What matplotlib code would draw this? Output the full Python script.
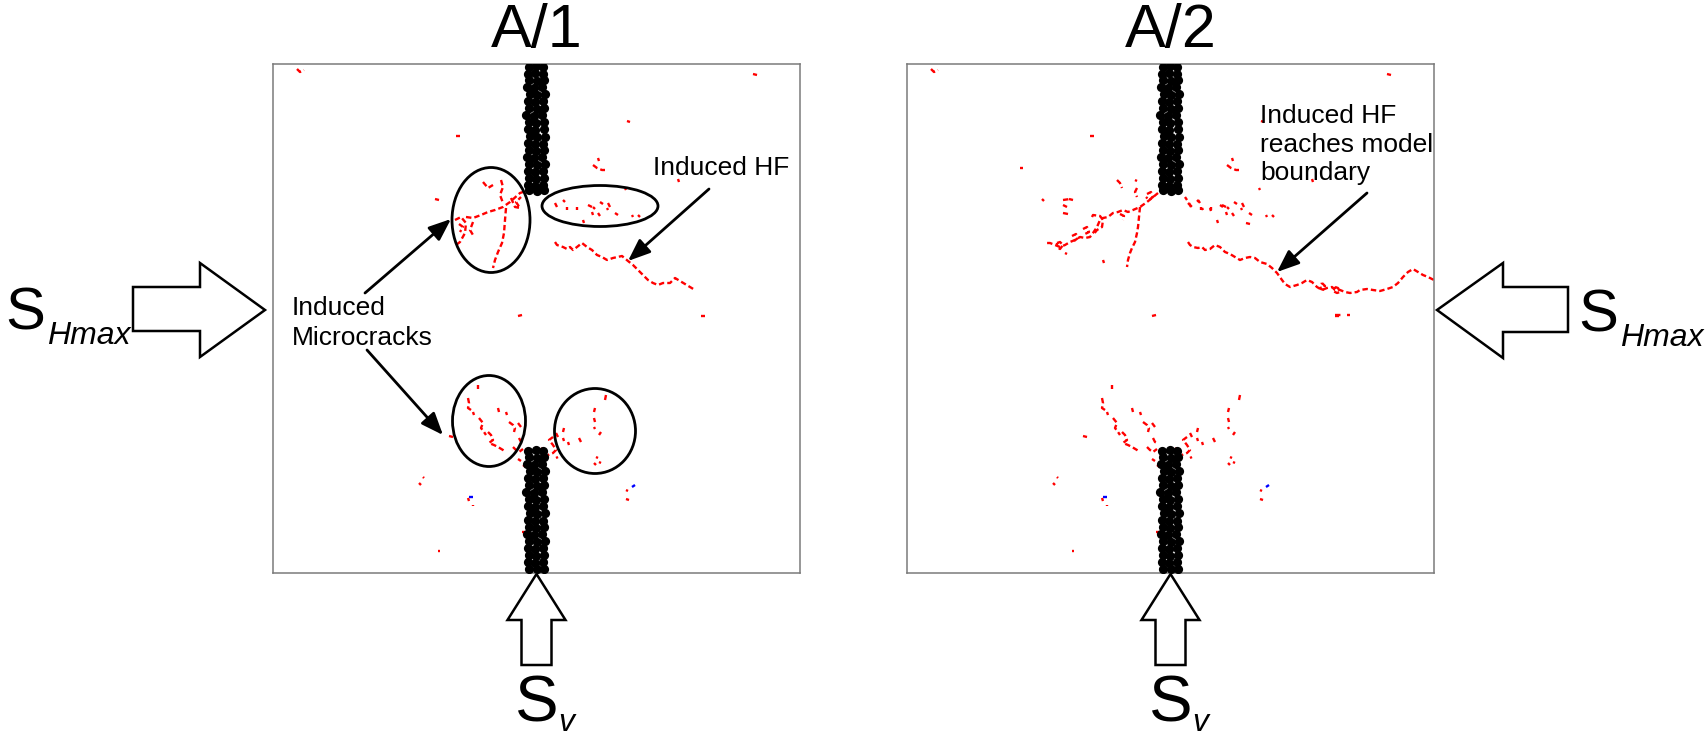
import matplotlib.pyplot as plt
from matplotlib.patches import Ellipse, Polygon

plt.rcParams['font.family'] = ['Liberation Sans', 'DejaVu Sans']

# figure size in pixels, model box size and placement
W, H = 1708, 736
PW, PH = 527, 509
panel_x0 = [273, 907]
panel_y0 = 64
titles = ['A/1', 'A/2']

# wellbore particles (panel coords, y down from the top of the model)
well_top = [
    (256, 3), (263, 2), (270, 3), (255, 10), (262, 9), (270, 10),
    (256, 16), (264, 17), (271, 16), (254, 23), (261, 24), (269, 23),
    (257, 30), (264, 31), (272, 30), (255, 37), (262, 38), (270, 37),
    (256, 44), (264, 45), (271, 44), (253, 51), (261, 52), (269, 51),
    (256, 58), (263, 59), (271, 58), (255, 65), (262, 66), (271, 65),
    (257, 72), (264, 73), (272, 73), (255, 79), (262, 80), (270, 80),
    (256, 86), (263, 87), (271, 86), (254, 93), (261, 94), (269, 93),
    (256, 100), (264, 101), (272, 100), (255, 107), (262, 108), (270, 107),
    (256, 114), (263, 115), (271, 114), (255, 121), (262, 122), (270, 121),
    (256, 126), (264, 127), (271, 126),
]
well_bot = [
    (255, 387), (263, 386), (270, 387), (256, 393), (264, 394), (271, 393),
    (254, 400), (261, 401), (269, 400), (257, 407), (264, 408), (272, 407),
    (255, 414), (262, 415), (270, 414), (256, 421), (264, 422), (271, 421),
    (253, 428), (261, 429), (269, 428), (256, 435), (263, 436), (271, 435),
    (255, 442), (262, 443), (270, 442), (257, 449), (264, 450), (272, 449),
    (255, 456), (262, 457), (270, 457), (256, 463), (263, 464), (271, 463),
    (254, 470), (261, 471), (269, 470), (256, 477), (264, 478), (272, 477),
    (255, 484), (262, 485), (270, 484), (256, 491), (263, 492), (271, 491),
    (255, 498), (262, 499), (270, 498), (256, 505), (264, 505), (271, 505),
]

# microcracks present in both stages
cracks_shared = [
    [(24, 5), (27, 8), (31, 6)],
    [(183, 72), (187, 72)], [(162, 135), (166, 136)], [(245, 252), (249, 251)],
    [(354, 57), (357, 58)], [(480, 10), (484, 11)], [(428, 252), (432, 252)],
    [(405, 115), (406, 118)],
    # right of the upper well
    [(282, 139), (284, 143)], [(290, 136), (292, 138)], [(294, 143), (294, 146)],
    [(304, 143), (304, 146)], [(315, 141), (319, 143)], [(320, 143), (322, 145)],
    [(327, 138), (330, 140)], [(335, 139), (337, 143)], [(319, 148), (320, 151)],
    [(325, 149), (327, 152)], [(334, 144), (335, 146)], [(342, 149), (345, 151)],
    [(359, 151), (360, 153)], [(365, 151), (367, 153)], [(310, 156), (311, 159)],
    [(352, 124), (353, 126)],
    [(320, 101), (324, 104), (329, 106), (332, 106)], [(325, 94), (326, 97)],
    # around the lower well
    [(205, 321), (205, 325)],
    [(195, 334), (196, 339), (195, 344), (198, 346)],
    [(200, 348), (201, 351)],
    [(206, 354), (210, 359), (208, 364), (211, 368), (213, 371)],
    [(215, 368), (218, 371), (220, 376), (216, 379), (221, 381), (225, 383),
     (230, 386), (233, 388)],
    [(225, 344), (226, 348)], [(233, 348), (234, 351)],
    [(236, 358), (240, 361), (242, 364), (241, 368)],
    [(245, 359), (248, 363)], [(246, 374), (248, 378), (250, 379)],
    [(240, 383), (243, 386), (246, 388), (250, 385)],
    [(245, 395), (248, 397)], [(250, 401), (253, 403)],
    [(176, 372), (180, 373)],
    [(333, 331), (332, 336)], [(322, 344), (321, 348)], [(321, 354), (322, 358)],
    [(321, 363), (322, 365)], [(328, 368), (326, 371)], [(306, 374), (308, 378)],
    [(291, 364), (290, 368)], [(283, 369), (285, 373)],
    [(280, 373), (276, 376), (280, 381), (283, 386), (280, 389), (275, 391)],
    [(268, 384), (273, 388)], [(283, 394), (285, 393)], [(295, 378), (296, 381)],
    [(290, 374), (291, 377)], [(323, 393), (325, 394)], [(321, 399), (323, 401)],
    [(326, 398), (328, 399)],
    [(150, 413), (151, 414)], [(146, 419), (148, 421)], [(195, 434), (196, 437)],
    [(200, 441), (200, 442)], [(353, 426), (355, 427)], [(353, 435), (356, 436)],
    [(165, 487), (167, 487)], [(249, 468), (252, 468)],
]
cracks_blue = [[(196, 433), (200, 433)], [(359, 423), (362, 421)]]

# upper-left cracks and hydraulic fracture, stage 1
cracks_a1 = [
    [(182, 156), (188, 153), (193, 159), (192, 169), (187, 178), (183, 181)],
    [(193, 153), (200, 154), (208, 151), (215, 148), (222, 146), (230, 143),
     (237, 138), (247, 129), (253, 127)],
    [(233, 144), (232, 156), (231, 169), (229, 179), (225, 188), (222, 196), (220, 204)],
    [(210, 118), (215, 124), (220, 121)],
    [(228, 116), (230, 123), (227, 131), (230, 139)],
    [(238, 134), (242, 143), (247, 144), (243, 138), (248, 133)],
    [(200, 158), (197, 166), (200, 171)],
    [(186, 160), (190, 163), (187, 168)],
    [(282, 178), (284, 181), (290, 183), (294, 185), (297, 183), (300, 186),
     (304, 183), (309, 179), (314, 183), (319, 186), (324, 191), (329, 193),
     (334, 196), (340, 194), (349, 192), (355, 197), (360, 201), (365, 206),
     (370, 211), (375, 216), (380, 219), (385, 221), (390, 219), (397, 219),
     (402, 214), (407, 217), (412, 220), (417, 223), (422, 226)],
]

# upper-left cracks and hydraulic fracture, stage 2
cracks_a2 = [
    [(251, 129), (245, 134), (240, 138), (233, 143), (226, 146), (221, 148),
     (216, 146), (211, 148), (206, 149), (201, 153), (196, 154), (193, 156),
     (190, 163), (186, 169), (183, 173), (178, 174), (173, 173), (168, 176),
     (163, 178), (158, 181), (153, 183), (148, 181), (143, 179), (138, 179)],
    [(233, 143), (232, 153), (231, 163), (230, 169), (228, 178), (225, 184),
     (223, 189), (221, 196), (220, 203)],
    [(156, 136), (163, 135)], [(156, 141), (160, 143)], [(156, 149), (161, 150)],
    [(210, 116), (213, 119), (215, 124)], [(228, 116), (230, 117)],
    [(230, 124), (228, 128), (230, 133)],
    [(150, 179), (153, 178), (156, 181), (153, 185), (150, 183), (150, 179)],
    [(165, 172), (169, 170), (171, 174), (167, 177)],
    [(176, 165), (180, 163), (182, 168), (178, 170)],
    [(240, 130), (244, 128), (246, 133), (242, 136), (239, 133)],
    [(213, 150), (217, 152), (216, 156)],
    [(158, 189), (160, 190)], [(196, 196), (197, 199)],
    [(185, 153), (186, 151), (193, 152), (196, 156), (195, 163), (190, 166), (186, 171)],
    [(113, 104), (116, 104)], [(135, 135), (137, 137)],
    [(278, 133), (280, 136)], [(281, 139), (285, 143)], [(291, 136), (293, 139)],
    [(295, 144), (296, 146)], [(303, 144), (304, 147)], [(313, 141), (316, 143)],
    [(339, 159), (343, 160)],
    [(281, 178), (283, 181), (286, 183), (291, 184), (295, 183), (298, 186),
     (303, 185), (308, 181), (313, 183), (318, 188), (323, 190), (328, 193),
     (333, 196), (338, 194), (343, 193), (348, 194), (353, 198), (360, 200),
     (365, 204), (370, 209), (375, 216), (378, 220), (383, 223), (390, 221),
     (395, 219), (400, 216), (405, 218), (410, 223), (415, 226), (420, 224),
     (425, 223), (428, 226), (433, 226), (438, 228), (443, 229), (450, 228),
     (453, 226), (460, 225), (466, 226), (473, 227), (480, 225), (486, 223),
     (491, 219), (496, 213), (501, 208), (506, 205), (511, 208), (516, 211),
     (521, 213), (527, 216)],
    [(415, 219), (418, 222), (417, 226), (414, 225), (413, 222), (415, 219)],
    [(428, 223), (431, 224), (433, 228), (430, 229), (426, 227), (428, 223)],
    [(428, 251), (435, 251)], [(440, 251), (443, 251)],
]

# annotation ellipses (centre x, centre y, width, height), stage 1 only
ellipses_a1 = [(218, 156, 78, 105), (327, 142, 116, 41),
               (216, 357, 73, 91), (322, 367, 81, 85)]

# labels inside the models: (x, baseline y, text)
labels_a1 = [(19, 251, 'Induced'), (19, 281, 'Microcracks'), (380, 111, 'Induced HF')]
labels_a2 = [(353, 59, 'Induced HF'), (353, 88, 'reaches model'), (353, 116, 'boundary')]
pointers_a1 = [((92, 229), (178, 155)), ((94, 286), (170, 371)), ((436, 125), (355, 197))]
pointers_a2 = [((460, 129), (370, 208))]


def model_axes(x0):
    ax = fig.add_axes([x0 / W, (H - panel_y0 - PH) / H, PW / W, PH / H])
    ax.set_xlim(0, PW)
    ax.set_ylim(PH, 0)
    ax.set_xticks([])
    ax.set_yticks([])
    ax.patch.set_visible(False)
    for s in ax.spines.values():
        s.set_color('#7a7a7a')
        s.set_linewidth(1.1)
    return ax


def draw_cracks(ax, cracks, color):
    for c in cracks:
        xs = [p[0] for p in c]
        ys = [p[1] for p in c]
        ax.plot(xs, ys, color=color, lw=1.7, ls=(0, (2.3, 1.3)),
                dash_capstyle='butt', solid_capstyle='butt')


def draw_well(ax, balls):
    ax.scatter([b[0] for b in balls], [b[1] for b in balls], s=44, c='black',
               linewidths=0, zorder=3)


def pointer(ax, start, tip):
    ax.annotate('', xy=tip, xytext=start,
                arrowprops=dict(arrowstyle='-|>,head_length=0.45,head_width=0.18',
                                mutation_scale=30, lw=2.0, color='black',
                                shrinkA=0, shrinkB=0))


fig = plt.figure(figsize=(W / 100, H / 100), dpi=100)
over = fig.add_axes([0, 0, 1, 1])
over.set_xlim(0, W)
over.set_ylim(H, 0)
over.axis('off')

for i, x0 in enumerate(panel_x0):
    ax = model_axes(x0)
    draw_cracks(ax, cracks_shared, 'red')
    draw_cracks(ax, cracks_a1 if i == 0 else cracks_a2, 'red')
    draw_cracks(ax, cracks_blue, 'blue')
    draw_well(ax, well_top)
    draw_well(ax, well_bot)
    if i == 0:
        for cx, cy, w, h in ellipses_a1:
            ax.add_patch(Ellipse((cx, cy), w, h, fill=False, ec='black', lw=2.0, zorder=4))
    for x, y, s in (labels_a1 if i == 0 else labels_a2):
        ax.text(x, y, s, fontsize=19, ha='left', va='baseline')
    for start, tip in (pointers_a1 if i == 0 else pointers_a2):
        pointer(ax, start, tip)
    over.text(x0 + PW / 2, 47, titles[i], fontsize=44, ha='center', va='baseline')

# loading arrows
arrow_style = dict(fc='white', ec='black', lw=1.8, joinstyle='miter')
over.add_patch(Polygon([(133, 287), (200, 287), (200, 263), (265, 310),
                        (200, 357), (200, 331), (133, 331)], **arrow_style))
over.add_patch(Polygon([(1568, 287), (1503, 287), (1503, 263), (1437, 310),
                        (1503, 358), (1503, 332), (1568, 332)], **arrow_style))
for x0 in panel_x0:
    cx = x0 + PW / 2
    over.add_patch(Polygon([(cx, 574), (cx + 29, 620), (cx + 15, 620), (cx + 15, 665),
                            (cx - 15, 665), (cx - 15, 620), (cx - 29, 620)], **arrow_style))
    over.text(cx - 22, 722, 'S', fontsize=47, ha='left', va='baseline')
    over.text(cx + 22, 731, 'v', fontsize=23, style='italic', ha='left', va='baseline')

over.text(5, 329, 'S', fontsize=43, ha='left', va='baseline')
over.text(47, 344, 'Hmax', fontsize=23, style='italic', ha='left', va='baseline')
over.text(1578, 331, 'S', fontsize=43, ha='left', va='baseline')
over.text(1620, 346, 'Hmax', fontsize=23, style='italic', ha='left', va='baseline')

fig.savefig('out.png', dpi=100, facecolor='white')
